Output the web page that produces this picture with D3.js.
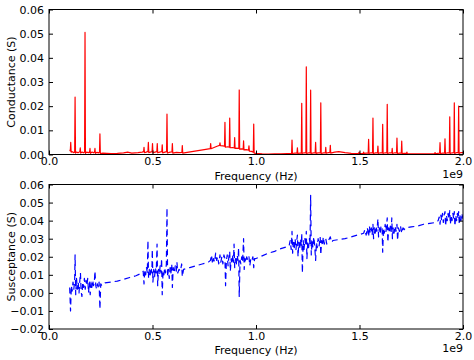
<!DOCTYPE html>
<html><head><meta charset="utf-8">
<script src="https://cdn.jsdelivr.net/npm/d3@7"></script>
<style>body{margin:0;background:#fff}svg{display:block}text{font-family:"DejaVu Sans",sans-serif;fill:#000}</style>
</head><body><svg id="c" width="474" height="360"></svg>
<script>
// Frequencies in units of 1e9 Hz
const condFreq = [0.100,0.103,0.105,0.107,0.112,0.118,0.124,0.126,0.128,0.134,0.140,0.146,0.149,0.151,0.153,0.160,0.166,0.172,0.174,0.176,0.182,0.190,0.196,0.198,0.200,0.208,0.215,0.220,0.222,0.224,0.232,0.240,0.244,0.246,0.248,0.26,0.28,0.30,0.33,0.36,0.38,0.40,0.43,
0.450,0.457,0.459,0.461,0.470,0.478,0.480,0.482,0.490,0.498,0.500,0.502,0.512,0.521,0.523,0.525,0.535,0.545,0.547,0.549,0.560,0.568,0.570,0.572,0.585,0.594,0.596,0.598,0.615,0.630,0.642,0.644,0.646,0.66,0.69,0.72,0.75,
0.779,0.781,0.783,0.80,0.815,0.824,0.826,0.828,0.840,0.848,0.850,0.852,0.862,0.871,0.873,0.875,0.886,0.895,0.897,0.899,0.910,0.917,0.919,0.921,0.930,0.938,0.940,0.942,0.952,0.964,0.966,0.968,0.978,0.987,0.989,0.991,1.00,1.03,1.06,1.09,1.12,1.15,
1.172,1.174,1.176,1.188,1.198,1.200,1.202,1.212,1.219,1.221,1.223,1.232,1.241,1.243,1.245,1.255,1.262,1.264,1.266,1.278,1.286,1.288,1.290,1.300,1.311,1.313,1.315,1.326,1.335,1.337,1.339,1.350,1.357,1.359,1.361,1.38,1.40,1.43,1.46,1.48,
1.496,1.498,1.500,1.518,1.520,1.522,1.532,1.542,1.544,1.546,1.555,1.563,1.565,1.567,1.578,1.587,1.589,1.591,1.600,1.610,1.612,1.614,1.624,1.632,1.634,1.636,1.646,1.656,1.658,1.660,1.670,1.679,1.681,1.683,1.693,1.702,1.704,1.706,1.716,1.727,1.729,1.731,1.76,1.80,1.84,
1.863,1.865,1.867,1.878,1.887,1.889,1.891,1.902,1.911,1.913,1.915,1.925,1.934,1.936,1.938,1.948,1.956,1.958,1.960,1.970,1.977,1.979,1.981,1.990,2.000];
const condValues = [0.002,0.0015,0.005,0.001,0.0012,0.0008,0.001,0.0238,0.0006,0.001,0.0007,0.001,0.0012,0.0028,0.0006,0.001,0.0007,0.001,0.0505,0.0005,0.001,0.0008,0.001,0.0025,0.0005,0.001,0.0007,0.001,0.0025,0.0005,0.0009,0.0007,0.001,0.0085,0.0004,0.0006,0.0005,0.0004,0.0005,0.0007,0.001,0.0006,0.0008,
0.001,0.0012,0.003,0.0008,0.001,0.0013,0.005,0.0008,0.001,0.0012,0.0045,0.0007,0.001,0.0012,0.0045,0.0007,0.001,0.0012,0.004,0.0007,0.001,0.0012,0.0167,0.0006,0.001,0.0011,0.0045,0.0006,0.0009,0.0008,0.0009,0.0037,0.0006,0.0008,0.0012,0.0016,0.002,
0.0024,0.0045,0.0024,0.003,0.0035,0.0038,0.0048,0.0037,0.0036,0.0034,0.0133,0.003,0.0032,0.003,0.0151,0.0028,0.0029,0.0027,0.007,0.0025,0.0026,0.0025,0.0267,0.0022,0.0023,0.0022,0.0056,0.0019,0.002,0.0018,0.0036,0.0014,0.0013,0.001,0.0126,0.0006,0.0005,0.0003,0.0002,0.0003,0.0003,0.0004,
0.0005,0.006,0.0004,0.0006,0.0006,0.0028,0.0004,0.0006,0.0006,0.0212,0.0004,0.0007,0.0007,0.0363,0.0004,0.0007,0.0007,0.0266,0.0004,0.0007,0.0007,0.005,0.0005,0.0007,0.0007,0.0214,0.0004,0.0007,0.0007,0.003,0.0005,0.0008,0.0008,0.0038,0.0006,0.001,0.0012,0.0008,0.0005,0.0004,
0.0005,0.001,0.0004,0.0005,0.001,0.0004,0.0006,0.0006,0.0063,0.0004,0.0007,0.0007,0.0151,0.0004,0.0007,0.0007,0.0035,0.0004,0.0007,0.0007,0.0125,0.0004,0.0007,0.0007,0.0208,0.0004,0.0007,0.0007,0.0025,0.0004,0.0007,0.0007,0.0068,0.0004,0.0006,0.0006,0.0055,0.0004,0.0005,0.0005,0.001,0.0003,0.0003,0.0003,0.0003,
0.0004,0.0008,0.0003,0.0005,0.0006,0.0049,0.0004,0.0006,0.0006,0.0065,0.0004,0.0007,0.0007,0.0156,0.0004,0.0007,0.0008,0.0214,0.0004,0.0008,0.0008,0.020,0.0004,0.0008,0.0008];

const suscFreq = [0.100,0.104,0.108,0.112,0.116,0.120,0.124,0.126,0.129,0.133,0.137,0.141,0.145,0.149,0.152,0.155,0.159,0.163,0.167,0.171,0.175,0.179,0.183,0.187,0.191,0.195,0.199,0.203,0.207,0.211,0.215,0.219,0.222,0.226,0.230,0.234,0.238,0.242,0.246,0.250,0.255,
0.27,0.30,0.33,0.36,0.39,0.42,0.44,
0.450,0.455,0.459,0.463,0.467,0.471,0.475,0.478,0.481,0.485,0.489,0.493,0.497,0.499,0.502,0.506,0.510,0.514,0.518,0.522,0.525,0.529,0.533,0.537,0.541,0.544,0.547,0.551,0.555,0.559,0.563,0.567,0.570,0.573,0.577,0.581,0.585,0.589,0.593,0.596,0.600,0.605,0.610,0.615,0.618,0.622,0.628,0.635,0.641,0.644,0.650,
0.68,0.71,0.74,0.77,
0.780,0.785,0.790,0.795,0.800,0.805,0.810,0.815,0.820,0.826,0.830,0.835,0.840,0.845,0.850,0.853,0.857,0.861,0.865,0.869,0.873,0.876,0.880,0.884,0.888,0.891,0.894,0.897,0.901,0.905,0.909,0.913,0.916,0.919,0.923,0.927,0.931,0.935,0.940,0.943,0.947,0.951,0.955,0.960,0.966,0.970,0.975,0.980,0.985,0.989,0.993,1.000,
1.03,1.06,1.09,1.12,1.15,
1.160,1.165,1.170,1.174,1.177,1.181,1.185,1.189,1.193,1.197,1.200,1.203,1.207,1.211,1.215,1.219,1.221,1.224,1.228,1.232,1.236,1.240,1.243,1.246,1.250,1.254,1.258,1.261,1.264,1.267,1.271,1.275,1.279,1.283,1.288,1.292,1.296,1.300,1.305,1.310,1.313,1.317,1.321,1.325,1.330,1.337,1.342,1.350,1.359,1.365,1.372,
1.40,1.43,1.46,1.49,
1.520,1.526,1.532,1.538,1.544,1.548,1.552,1.557,1.561,1.565,1.568,1.572,1.576,1.580,1.584,1.589,1.592,1.596,1.600,1.604,1.609,1.612,1.616,1.620,1.624,1.628,1.634,1.637,1.641,1.645,1.649,1.653,1.656,1.659,1.663,1.667,1.672,1.676,1.681,1.684,1.688,1.693,1.698,1.704,1.710,1.716,1.722,
1.75,1.78,1.81,1.84,1.87,
1.880,1.885,1.889,1.893,1.897,1.901,1.905,1.909,1.913,1.916,1.920,1.924,1.928,1.932,1.936,1.939,1.943,1.947,1.951,1.955,1.958,1.961,1.965,1.969,1.973,1.976,1.979,1.982,1.986,1.990,1.994,2.000];
const suscValues = [0.003,-0.010,0.004,0.001,0.006,0.002,0.007,0.021,-0.001,0.008,0.002,0.006,0.000,0.007,0.011,0.001,-0.002,0.006,0.003,0.008,0.002,0.007,0.004,0.008,0.000,0.006,-0.001,0.006,0.003,0.007,0.004,0.006,0.012,0.004,0.002,0.005,0.003,0.006,-0.009,0.005,0.004,
0.0055,0.006,0.0065,0.0075,0.0085,0.0095,0.0105,
0.011,0.012,0.005,0.013,0.010,0.014,0.011,0.029,0.008,0.013,0.010,0.014,0.011,0.024,0.006,0.013,0.009,0.014,0.011,0.027,0.004,0.013,0.010,0.015,0.011,0.019,-0.001,0.012,0.010,0.014,0.011,0.016,0.047,0.009,0.013,0.008,0.014,0.011,0.016,0.003,0.014,0.011,0.015,0.012,0.017,0.011,0.013,0.012,0.016,0.009,0.013,
0.014,0.015,0.016,0.017,
0.018,0.021,0.016,0.019,0.017,0.022,0.018,0.020,0.016,0.021,0.017,0.020,0.016,0.021,0.019,0.004,0.018,0.021,0.015,0.020,0.023,0.012,0.019,0.016,0.021,0.017,0.027,0.014,0.019,0.016,0.021,0.018,0.025,-0.002,0.018,0.016,0.020,0.017,0.030,0.013,0.019,0.017,0.020,0.018,0.020,0.015,0.019,0.018,0.020,0.014,0.019,0.019,
0.0205,0.022,0.023,0.0245,0.0255,
0.026,0.029,0.024,0.034,0.022,0.028,0.025,0.030,0.024,0.029,0.032,0.020,0.028,0.024,0.030,0.026,0.033,0.011,0.029,0.024,0.030,0.026,0.034,0.019,0.028,0.025,0.030,0.027,0.054,0.021,0.029,0.025,0.031,0.027,0.018,0.028,0.025,0.030,0.026,0.031,0.021,0.029,0.026,0.031,0.027,0.030,0.027,0.029,0.031,0.028,0.029,
0.0295,0.030,0.031,0.032,
0.033,0.035,0.032,0.036,0.031,0.037,0.033,0.036,0.032,0.038,0.030,0.036,0.033,0.037,0.034,0.041,0.031,0.036,0.033,0.037,0.037,0.0225,0.036,0.033,0.038,0.034,0.0415,0.028,0.036,0.033,0.037,0.034,0.0415,0.030,0.036,0.033,0.037,0.034,0.038,0.029,0.036,0.034,0.037,0.033,0.036,0.035,0.036,
0.0365,0.037,0.038,0.0385,0.039,
0.040,0.042,0.038,0.043,0.040,0.044,0.039,0.043,0.045,0.037,0.043,0.040,0.044,0.041,0.0455,0.038,0.043,0.040,0.044,0.041,0.045,0.037,0.043,0.040,0.044,0.041,0.045,0.038,0.043,0.040,0.044,0.041];

const xTicks = [0, 0.5, 1.0, 1.5, 2.0];
const condTicks = [0, 0.01, 0.02, 0.03, 0.04, 0.05, 0.06];
const suscTicks = [-0.02, -0.01, 0, 0.01, 0.02, 0.03, 0.04, 0.05, 0.06];

const svg = d3.select("#c");
const L = 49, R = 463;
const x = d3.scaleLinear().domain([0, 2]).range([L, R]);

function panel(id, top, bottom, yDomain, yTicks, freq, vals, color, dash, ylabel) {
  const y = d3.scaleLinear().domain(yDomain).range([bottom, top]);
  const g = svg.append("g");
  g.append("clipPath").attr("id", id).append("rect")
    .attr("x", L).attr("y", top).attr("width", R - L).attr("height", bottom - top);
  const line = d3.line().x((d, i) => x(freq[i])).y(d => y(d));
  g.append("path").datum(vals).attr("clip-path", `url(#${id})`)
    .attr("d", line).attr("fill", "none").attr("stroke", color)
    .attr("stroke-width", 1.2).attr("stroke-dasharray", dash).attr("stroke-linejoin", "round");

  const fs = "11px";
  const ax = g.append("g").attr("transform", `translate(0,${bottom})`)
    .call(d3.axisBottom(x).tickValues(xTicks).tickFormat(d3.format(".1f")).tickSize(-4).tickPadding(3));
  const axT = g.append("g").attr("transform", `translate(0,${top})`)
    .call(d3.axisTop(x).tickValues(xTicks).tickFormat("").tickSize(-4));
  const ay = g.append("g").attr("transform", `translate(${L},0)`)
    .call(d3.axisLeft(y).tickValues(yTicks).tickFormat(d3.format(".2f")).tickSize(-4).tickPadding(5));
  const ayR = g.append("g").attr("transform", `translate(${R},0)`)
    .call(d3.axisRight(y).tickValues(yTicks).tickFormat("").tickSize(-4));
  [ax, axT, ay, ayR].forEach(a => {
    a.select(".domain").remove();
    a.selectAll("line").attr("stroke", "#000");
    a.selectAll("text").attr("font-family", "DejaVu Sans").attr("font-size", fs).attr("fill", "#000");
  });
  g.append("rect").attr("x", L).attr("y", top).attr("width", R - L).attr("height", bottom - top)
    .attr("fill", "none").attr("stroke", "#000").attr("stroke-width", 1);

  g.append("text").attr("x", (L + R) / 2).attr("y", bottom + 25).attr("text-anchor", "middle")
    .attr("font-size", "11px").text("Frequency (Hz)");
  g.append("text").attr("x", R).attr("y", bottom + 23).attr("text-anchor", "end")
    .attr("font-size", "11px").text("1e9");
  g.append("text").attr("transform", `translate(14.5,${(top + bottom) / 2}) rotate(-90)`)
    .attr("text-anchor", "middle").attr("font-size", "11px").text(ylabel);
}

panel("clipA", 9.5, 154.5, [0, 0.06], condTicks, condFreq, condValues, "#ff0000", null, "Conductance (S)");
panel("clipB", 184.5, 329, [-0.02, 0.06], suscTicks, suscFreq, suscValues, "#0000ff", "6,4", "Susceptance (S)");
</script></body></html>
